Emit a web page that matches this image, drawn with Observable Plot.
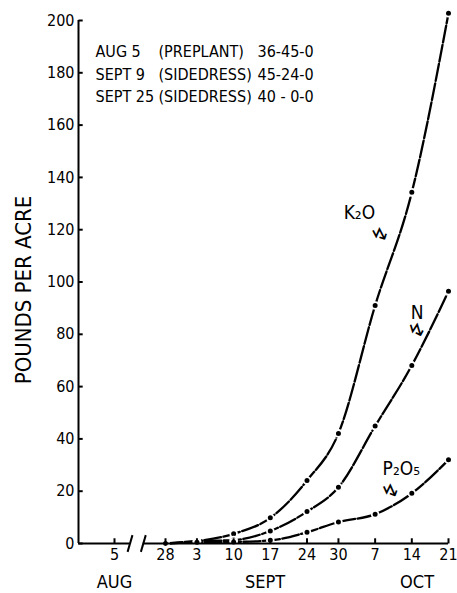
<!DOCTYPE html>
<html><head><meta charset="utf-8">
<script src="https://cdn.jsdelivr.net/npm/d3@7"></script>
<script src="https://cdn.jsdelivr.net/npm/@observablehq/plot@0.6"></script>
<style>body{margin:0;background:#fff} svg{display:block}</style>
</head><body><div id="chart"></div>
<script>
// ---- data ----
const sampleDates = ["08-28","09-03","09-10","09-17","09-24","09-30","10-07","10-14","10-21"];
const k2o  = [0, 0.9, 3.7, 9.8, 24.1, 42.1, 91, 134.3, 202.8];
const nitro = [0, 0.9, 1.3, 4.8, 12.2, 21.5, 44.9, 68.1, 96.5];
const p2o5 = [0, 0.5, 0.6, 1.2, 4.3, 8.2, 11.2, 19.2, 32];
const seriesNames = ["K₂O", "N", "P₂O₅"];

const xTickDates  = ["08-05","08-28","09-03","09-10","09-17","09-24","09-30","10-07","10-14","10-21"];
const xTickLabels = ["5","28","3","10","17","24","30","7","14","21"];
const monthNames  = ["AUG","SEPT","OCT"];
const monthDates  = ["08-05","09-16","10-15"];
const yTicks = [0,20,40,60,80,100,120,140,160,180,200];

const scheduleDates = ["AUG 5","SEPT 9","SEPT 25"];
const scheduleTypes = ["(PREPLANT)","(SIDEDRESS)","(SIDEDRESS)"];
const scheduleRates = ["36-45-0","45-24-0","40 - 0-0"];

// curve label anchors (date, value)
const labelDates  = ["10-04","10-15","10-12"];
const labelValues = [126.5, 88, 28.5];
const arrowDates  = ["10-08","10-15","10-10"];
const arrowValues = [118, 81.5, 20];
const arrowAngles = [-37, -27, -34];

// axis break (compressed August)
const axisStart = "07-30", breakStart = "08-12", breakEnd = "08-18", axisEnd = "10-21";

// ---- build ----
const d = s => new Date(`2000-${s}T00:00:00Z`);
const values = [k2o, nitro, p2o5];
const rows = [];
values.forEach((arr, si) => arr.forEach((v, i) => rows.push({series: seriesNames[si], date: d(sampleDates[i]), value: v})));
const tickLabel = new Map(xTickDates.map((s, i) => [+d(s), xTickLabels[i]]));
const shift = (s, days) => new Date(+d(s) + days * 864e5);

const narrow = "'Liberation Sans Narrow', 'DejaVu Sans Condensed', 'Liberation Sans', sans-serif";

const chart = Plot.plot({
  width: 457,
  height: 593,
  marginLeft: 78,
  marginRight: 9,
  marginTop: 20,
  marginBottom: 50,
  style: {fontFamily: narrow, background: "#fff", color: "#000"},
  x: {type: "utc", domain: [d(axisStart), d("08-05"), d("08-28"), d(axisEnd)], range: [78, 114, 165, 448]},
  y: {domain: [0, 200], range: [543, 20]},
  marks: [
    Plot.line(rows, {x: "date", y: "value", z: "series", curve: "monotone-x", stroke: "#000", strokeWidth: 2.3, strokeDasharray: "17,2.5"}),
    Plot.dot(rows, {x: "date", y: "value", r: 3.4, fill: "#000", stroke: "#fff", strokeWidth: 1.8}),
    // axes lines
    Plot.ruleX([d(axisStart)], {y1: 0, y2: 200, stroke: "#000", strokeWidth: 2}),
    Plot.ruleY([0], {x1: d(axisStart), x2: d(breakStart), stroke: "#000", strokeWidth: 2}),
    Plot.ruleY([0], {x1: d(breakEnd), x2: d(axisEnd), stroke: "#000", strokeWidth: 2}),
    Plot.link([breakStart, breakEnd], {x1: s => shift(s, -1.1), y1: -3.2, x2: s => shift(s, 1.1), y2: 3.2, stroke: "#000", strokeWidth: 2}),
    // inward tick marks
    Plot.link(yTicks, {x1: d(axisStart), x2: shift(axisStart, 0.7), y1: v => v, y2: v => v, stroke: "#000", strokeWidth: 2}),
    Plot.link(xTickDates, {x1: s => d(s), x2: s => d(s), y1: 0, y2: 2, stroke: "#000", strokeWidth: 2}),
    Plot.axisY({ticks: yTicks, tickSize: 0, tickPadding: 4, tickFormat: v => String(v), fontSize: 16, label: null}),
    Plot.axisX({ticks: xTickDates.map(d), tickSize: 0, tickPadding: 5, tickFormat: v => tickLabel.get(+v), fontSize: 16, label: null}),
    Plot.text(monthNames, {x: (m, i) => d(monthDates[i]), text: m => m, frameAnchor: "bottom", lineAnchor: "middle", dy: 39, fontSize: 18}),
    Plot.text(["POUNDS PER ACRE"], {frameAnchor: "left", textAnchor: "middle", dx: -55, dy: 8, rotate: -90, fontSize: 22, text: t => t}),
    // schedule text
    Plot.text([scheduleDates.join("\n")], {frameAnchor: "top-left", dx: 17, dy: 21, lineAnchor: "top", textAnchor: "start", lineHeight: 1.4, fontSize: 16, text: t => t}),
    Plot.text([scheduleTypes.join("\n")], {frameAnchor: "top-left", dx: 80, dy: 21, lineAnchor: "top", textAnchor: "start", lineHeight: 1.4, fontSize: 16, text: t => t}),
    Plot.text([scheduleRates.join("\n")], {frameAnchor: "top-left", dx: 179, dy: 21, lineAnchor: "top", textAnchor: "start", lineHeight: 1.4, fontSize: 16, text: t => t}),
    // curve labels
    Plot.text(seriesNames, {x: (t, i) => d(labelDates[i]), y: (t, i) => labelValues[i], text: t => t, fontSize: 19, fontFamily: "'DejaVu Sans Condensed', 'DejaVu Sans', sans-serif"}),
    Plot.text(arrowDates, {x: s => d(s), y: (s, i) => arrowValues[i], text: () => "↯", rotate: (s, i) => arrowAngles[i], fontSize: 20, fontFamily: "'DejaVu Sans', sans-serif"})
  ]
});
document.getElementById("chart").append(chart);
</script>
</body></html>
